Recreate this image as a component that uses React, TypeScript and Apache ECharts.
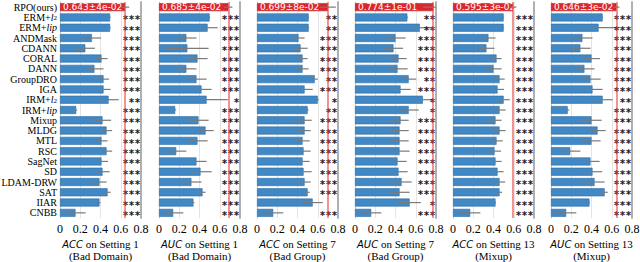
import React, { useEffect, useRef } from 'react';
import * as echarts from 'echarts';

const methods = ['RPO(ours)', 'ERM+l2', 'ERM+lip', 'ANDMask', 'CDANN', 'CORAL', 'DANN', 'GroupDRO', 'IGA', 'IRM+l2', 'IRM+lip', 'Mixup', 'MLDG', 'MTL', 'RSC', 'SagNet', 'SD', 'LDAM-DRW', 'SAT', 'IIAR', 'CNBB'];

const xTicks = [0, 0.2, 0.4, 0.6, 0.8];
const metricNames = ['ACC', 'AUC', 'ACC', 'AUC', 'ACC', 'AUC'];
const settingNames = ['on Setting 1', 'on Setting 1', 'on Setting 7', 'on Setting 7', 'on Setting 13', 'on Setting 13'];
const shiftNames = ['(Bad Domain)', '(Bad Domain)', '(Bad Group)', '(Bad Group)', '(Mixup)', '(Mixup)'];

const rpoMean = [0.643, 0.685, 0.699, 0.774, 0.595, 0.646];
const rpoStd = [0.04, 0.04, 0.08, 0.1, 0.03, 0.03];
const rpoText = ['0.643±4e-02', '0.685±4e-02', '0.699±8e-02', '0.774±1e-01', '0.595±3e-02', '0.646±3e-02'];

// values for the 20 baselines (ERM+l2 ... CNBB)
const acc1 = [0.495, 0.495, 0.315, 0.25, 0.41, 0.34, 0.43, 0.43, 0.48, 0.16, 0.42, 0.46, 0.41, 0.46, 0.41, 0.42, 0.39, 0.47, 0.39, 0.153];
const acc1Err = [0.005, 0.005, 0.09, 0.095, 0.06, 0.09, 0.055, 0.07, 0.1, 0.01, 0.085, 0.055, 0.06, 0.055, 0.065, 0.07, 0.07, 0.03, 0.01, 0.1];
const acc1Stars = ['***', '***', '***', '***', '***', '***', '***', '***', '**', '***', '***', '***', '***', '***', '***', '***', '***', '***', '***', '***'];

const auc1 = [0.5, 0.48, 0.27, 0.28, 0.38, 0.27, 0.37, 0.42, 0.47, 0.16, 0.39, 0.46, 0.38, 0.17, 0.37, 0.41, 0.32, 0.43, 0.34, 0.14];
const auc1Err = [0.005, 0.1, 0.1, 0.21, 0.1, 0.1, 0.1, 0.1, 0.21, 0.01, 0.1, 0.08, 0.1, 0.1, 0.1, 0.11, 0.1, 0.03, 0.01, 0.1];
const auc1Stars = ['***', '***', '***', '***', '***', '***', '***', '***', '*', '***', '***', '***', '***', '***', '***', '***', '***', '***', '***', '***'];

const acc7 = [0.51, 0.51, 0.41, 0.43, 0.45, 0.45, 0.57, 0.47, 0.6, 0.5, 0.47, 0.47, 0.45, 0.46, 0.45, 0.46, 0.47, 0.5, 0.55, 0.16];
const acc7Err = [0.005, 0.005, 0.06, 0.07, 0.05, 0.06, 0.03, 0.08, 0.01, 0.01, 0.07, 0.06, 0.07, 0.07, 0.07, 0.08, 0.06, 0.02, 0.1, 0.1];
const acc7Stars = ['**', '**', '***', '***', '***', '***', '**', '***', '*', '**', '***', '***', '***', '***', '***', '***', '***', '***', '', '***'];

const auc7 = [0.517, 0.64, 0.4, 0.38, 0.43, 0.42, 0.53, 0.45, 0.67, 0.53, 0.45, 0.44, 0.44, 0.44, 0.42, 0.43, 0.46, 0.44, 0.54, 0.16];
const auc7Err = [0.005, 0.11, 0.1, 0.095, 0.08, 0.1, 0.075, 0.1, 0.1, 0.1, 0.08, 0.09, 0.09, 0.1, 0.09, 0.09, 0.1, 0.1, 0.11, 0.1];
const auc7Stars = ['**', '**', '***', '***', '***', '***', '**', '***', '*', '*', '***', '***', '***', '***', '***', '***', '***', '***', '*', '***'];

const acc13 = [0.5, 0.5, 0.35, 0.33, 0.43, 0.4, 0.46, 0.44, 0.5, 0.46, 0.42, 0.46, 0.43, 0.41, 0.42, 0.44, 0.46, 0.46, 0.42, 0.17];
const acc13Err = [0.005, 0.005, 0.07, 0.08, 0.05, 0.08, 0.05, 0.065, 0.06, 0.06, 0.06, 0.06, 0.06, 0.065, 0.06, 0.06, 0.055, 0.025, 0.005, 0.1];
const acc13Stars = ['***', '***', '***', '***', '***', '***', '***', '***', '***', '***', '***', '***', '***', '***', '***', '***', '***', '***', '***', '***'];

const auc13 = [0.51, 0.47, 0.31, 0.29, 0.4, 0.33, 0.39, 0.41, 0.51, 0.165, 0.4, 0.46, 0.4, 0.19, 0.39, 0.41, 0.43, 0.53, 0.38, 0.15];
const auc13Err = [0.005, 0.21, 0.1, 0.1, 0.085, 0.1, 0.1, 0.1, 0.1, 0.015, 0.1, 0.08, 0.09, 0.1, 0.09, 0.095, 0.1, 0.03, 0.005, 0.1];
const auc13Stars = ['***', '***', '***', '***', '***', '***', '***', '***', '**', '***', '***', '***', '***', '***', '***', '***', '***', '***', '***', '***'];

const panelValues = [acc1, auc1, acc7, auc7, acc13, auc13];
const panelErrs = [acc1Err, auc1Err, acc7Err, auc7Err, acc13Err, auc13Err];
const panelStars = [acc1Stars, auc1Stars, acc7Stars, auc7Stars, acc13Stars, auc13Stars];

const GRID_LEFTS = [60, 159, 257, 355, 453, 551];
const GRID_W = 81;
const GRID_TOP = 2;
const GRID_H = 216;
const TITLE_TOP = 238.5;

const BLUE = '#4189c6';
const BLUE_EDGE = '#2f6ca3';
const RED = '#dc262c';

function methodLabel(v: string): string {
  if (v === 'ERM+l2') return 'ERM+{i|l}{s|2}';
  if (v === 'IRM+l2') return 'IRM+{i|l}{s|2}';
  if (v === 'ERM+lip') return 'ERM+{i|lip}';
  if (v === 'IRM+lip') return 'IRM+{i|lip}';
  return v;
}

export default function App() {
  const ref = useRef<HTMLDivElement>(null);
  useEffect(() => {
    if (!ref.current) return;
    const chart = echarts.init(ref.current, undefined, { renderer: 'svg' });
    const grid: any[] = [];
    const xAxis: any[] = [];
    const yAxis: any[] = [];
    const series: any[] = [];
    const title: any[] = [];
    for (let k = 0; k < 6; k++) {
      grid.push({
        left: GRID_LEFTS[k], top: GRID_TOP, width: GRID_W, height: GRID_H,
        containLabel: false, outerBoundsMode: 'none',
      });
      title.push({
        text: `{i|${metricNames[k]}} ${settingNames[k]}\n${shiftNames[k]}`,
        left: GRID_LEFTS[k] + GRID_W / 2, top: TITLE_TOP, textAlign: 'center', padding: 0,
        textStyle: {
          color: '#000', fontFamily: 'Liberation Serif', fontSize: 11, fontWeight: 'normal', lineHeight: 11.5,
          rich: { i: { fontFamily: 'DejaVu Sans', fontStyle: 'italic', fontSize: 10, color: '#000', lineHeight: 11.5 } },
        },
      });
      xAxis.push({
        type: 'value', gridIndex: k, min: xTicks[0], max: xTicks[xTicks.length - 1], interval: 0.2,
        axisLine: { show: false }, axisTick: { show: false },
        axisLabel: {
          color: '#000', fontFamily: 'Liberation Serif', fontSize: 12, margin: 5,
          formatter: (v: number) => (v === 0 ? '0' : v.toFixed(1)),
        },
        splitLine: { show: true, lineStyle: { color: '#e4e4e4', width: 1 } },
      });
      yAxis.push({
        type: 'category', gridIndex: k, data: methods, inverse: true, position: 'left',
        axisLine: { show: true, lineStyle: { color: '#c4c4c4', width: 1 } },
        axisTick: { show: false },
        axisLabel: {
          show: k === 0, interval: 0, color: '#000', fontFamily: 'Liberation Serif', fontSize: 10, margin: 3,
          formatter: (v: string) => methodLabel(v),
          rich: {
            i: { fontStyle: 'italic', fontFamily: 'Liberation Serif', fontSize: 10, color: '#000' },
            s: { fontSize: 7, fontFamily: 'Liberation Serif', color: '#000', padding: [2, 0, 0, 0] },
          },
        },
        splitLine: { show: false },
      });
      yAxis.push({
        type: 'category', gridIndex: k, data: methods, inverse: true, position: 'right',
        axisLine: { show: true, lineStyle: { color: '#b0b0b0', width: 2 } },
        axisTick: { show: false }, axisLabel: { show: false }, splitLine: { show: false },
      });
      const vals = panelValues[k];
      const errs = panelErrs[k];
      const stars = panelStars[k];
      const barData: any[] = [
        {
          value: rpoMean[k],
          itemStyle: { color: RED, borderColor: '#b81e22', borderWidth: 0.6 },
          label: {
            show: true, position: 'insideLeft', distance: 3, formatter: rpoText[k],
            color: '#fff', fontFamily: 'DejaVu Sans', fontSize: 9,
          },
        },
        ...vals.map((v) => ({ value: v })),
      ];
      series.push({
        type: 'bar', xAxisIndex: k, yAxisIndex: 2 * k, data: barData, barWidth: 8,
        itemStyle: { color: BLUE, borderColor: BLUE_EDGE, borderWidth: 0.6 },
        z: 2,
        markLine: {
          silent: true, symbol: 'none', label: { show: false },
          lineStyle: { color: 'rgba(236,60,60,0.7)', width: 1.6, type: 'solid' },
          data: [{ xAxis: rpoMean[k] }],
        },
      });
      const errData: any[] = [[rpoMean[k] - rpoStd[k], rpoMean[k] + rpoStd[k], 0]];
      vals.forEach((v, i) => errData.push([v - errs[i], v + errs[i], i + 1]));
      series.push({
        type: 'custom', xAxisIndex: k, yAxisIndex: 2 * k, clip: true, z: 3,
        encode: { x: [0, 1], y: 2 },
        data: errData,
        renderItem: (params: any, api: any) => {
          const a = api.coord([api.value(0), api.value(2)]);
          const b = api.coord([api.value(1), api.value(2)]);
          return {
            type: 'line',
            shape: { x1: a[0], y1: a[1], x2: b[0], y2: b[1] },
            style: { stroke: '#7a7a7a', lineWidth: 1.2 },
          };
        },
      });
      const starData: any[] = stars.map((s, i) => [0.795, i + 1, s]);
      series.push({
        type: 'custom', xAxisIndex: k, yAxisIndex: 2 * k, z: 4,
        encode: { x: 0, y: 1 },
        data: starData,
        renderItem: (params: any, api: any) => {
          const p = api.coord([api.value(0), api.value(1)]);
          const txt = starData[params.dataIndex][2];
          return {
            type: 'text',
            x: p[0], y: p[1] + 2.5,
            style: {
              text: txt, fill: '#1a1a1a', font: 'bold 10px "DejaVu Sans Mono"',
              textAlign: 'right', textVerticalAlign: 'middle', align: 'right', verticalAlign: 'middle',
            },
          };
        },
      });
    }
    chart.setOption({ animation: false, title, grid, xAxis, yAxis, series });
    return () => chart.dispose();
  }, []);
  return <div ref={ref} style={{ position: 'absolute', left: 0, top: 0, width: 640, height: 262, background: '#fff' }} />;
}
